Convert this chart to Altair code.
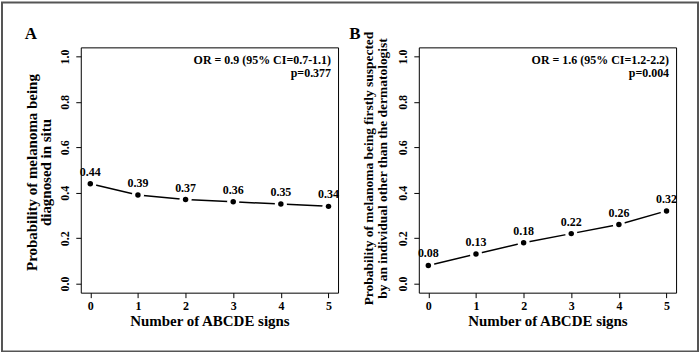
import altair as alt
import pandas as pd

signs = [0, 1, 2, 3, 4, 5]
prob_in_situ = [0.44, 0.39, 0.37, 0.36, 0.35, 0.34]
prob_suspected = [0.08, 0.13, 0.18, 0.22, 0.26, 0.32]
y_ticks = [0.0, 0.2, 0.4, 0.6, 0.8, 1.0]
title_a = ["Probability of melanoma being", "diagnosed in situ"]
title_b = ["Probability of melanoma being firstly suspected",
           "by an individual other than the dermatologist"]
x_title = "Number of ABCDE signs"
stats_a = ["OR = 0.9 (95% CI=0.7-1.1)", "p=0.377"]
stats_b = ["OR = 1.6 (95% CI=1.2-2.2)", "p=0.004"]

FONT = "Liberation Serif"
W, H = 258, 246


def panel(values, ytitle, stats, letter, letter_x, title_x, title_size,
          title_lh, title_y, border=False):
    df = pd.DataFrame({"x": signs, "y": values,
                       "lab": [f"{v:.2f}" for v in values]})
    xs = alt.Scale(domain=[-0.2, 5.2], nice=False, zero=False)
    ys = alt.Scale(domain=[-0.04, 1.04], nice=False, zero=False)
    xenc = alt.X("x:Q", scale=xs, axis=alt.Axis(
        values=signs, format="d", title=x_title, domain=False, grid=False,
        tickSize=5, tickColor="black", labelFont=FONT, labelFontWeight="bold",
        labelFontSize=12, labelColor="black", labelPadding=3,
        titleFont=FONT, titleFontSize=15, titleFontWeight="bold",
        titleColor="black", titleY=28, titleBaseline="middle"))
    yenc = alt.Y("y:Q", scale=ys, axis=alt.Axis(
        values=y_ticks, format=".1f", title=ytitle, domain=False, grid=False,
        tickSize=5, tickColor="black", labelAngle=270, labelAlign="center",
        labelBaseline="bottom", labelPadding=4, labelFont=FONT,
        labelFontWeight="bold", labelFontSize=12, labelColor="black",
        titleFont=FONT, titleFontSize=title_size, titleFontWeight="bold",
        titleColor="black", titleAngle=270, titleBaseline="middle",
        titleAlign="center", titleX=title_x, titleY=title_y,
        titleLineHeight=title_lh))
    base = alt.Chart(df)
    line = base.mark_line(color="black", strokeWidth=1.5).encode(x=xenc, y=yenc)
    gap = base.mark_circle(size=150, color="white", opacity=1).encode(x="x:Q", y="y:Q")
    pts = base.mark_circle(size=30, color="black", opacity=1).encode(x="x:Q", y="y:Q")
    labels = base.mark_text(dy=-12, font=FONT, fontWeight="bold", fontSize=12,
                            color="black").encode(x="x:Q", y="y:Q", text="lab:N")
    one = alt.Chart(pd.DataFrame({"k": [0]}))
    stat = one.mark_text(text=stats, align="right", baseline="middle",
                         lineHeight=13, font=FONT, fontWeight="bold",
                         fontSize=12, color="black").encode(
        x=alt.value(W - 7), y=alt.value(13))
    let = one.mark_text(text=letter, align="center", baseline="middle",
                        font=FONT, fontWeight="bold", fontSize=17,
                        color="black").encode(x=alt.value(letter_x), y=alt.value(-13))
    layers = [line, gap, pts, labels, stat, let]
    if border:
        frame = alt.Chart(pd.DataFrame({"f": [1]})).mark_rect(
            filled=False, stroke="#555555", strokeWidth=2).encode(
            x=alt.value(-79), x2=alt.value(619), y=alt.value(-45), y2=alt.value(305))
        layers = [frame] + layers
    return alt.layer(*layers).properties(width=W, height=H)


pa = panel(prob_in_situ, title_a, stats_a, "A", -50, -49, 15, 14, 125, border=True)
pb = panel(prob_suspected, title_b, stats_b, "B", -64, -50, 13.5, 14, 121)

chart = alt.hconcat(pa, pb, spacing=81, bounds="flush").properties(
    padding=0, background="white"
).configure_view(stroke="black", strokeWidth=1)

chart.save("out.html", embed_options={"renderer": "svg", "actions": False})
